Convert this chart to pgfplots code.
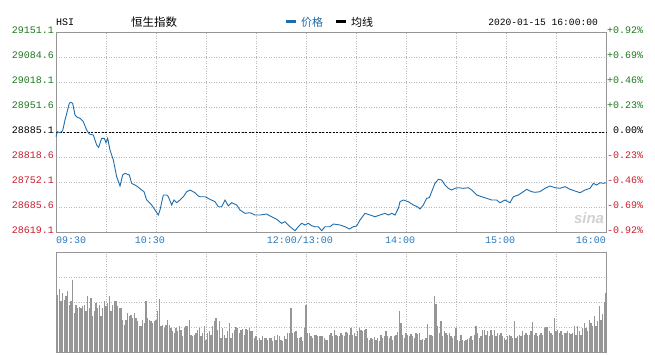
\documentclass[border=0pt]{standalone}
\usepackage{pgfplots}
\pgfplotsset{compat=1.18}
\usepackage{pgfplotstable}
\usepackage{fontspec}
\setmainfont{Liberation Mono}
\newfontfamily\cjk{Noto Sans CJK SC}
\newfontfamily\sinafont{Liberation Sans}
\definecolor{lineblue}{RGB}{30,108,170}
\definecolor{tickblue}{RGB}{40,120,190}
\definecolor{upgreen}{RGB}{30,120,30}
\definecolor{downred}{RGB}{200,30,45}
\definecolor{framegray}{RGB}{150,150,150}
\definecolor{gridgray}{RGB}{185,185,185}
\definecolor{volgray}{RGB}{150,150,150}
\tikzset{
  rlab/.style={anchor=west, inner xsep=1pt, yshift=2pt, font=\fontsize{10}{10}\selectfont},
  tlab/.style={text=tickblue, yshift=-8pt, font=\fontsize{10}{10}\selectfont},
}

\pgfplotstableread{
v
62
57
63
51
59
52
56
61
47
51
72
39
47
44
45
44
46
47
41
56
44
54
36
41
49
44
47
36
44
51
46
49
56
41
47
51
51
46
44
44
32
27
32
39
36
37
34
39
34
31
26
26
32
29
51
34
32
31
29
31
32
41
53
26
27
24
27
32
27
24
21
19
24
21
26
22
16
24
26
26
32
17
16
17
19
22
24
16
19
26
12
19
21
17
26
31
34
22
31
14
24
17
14
21
29
14
19
22
25
24
19
22
23
17
23
22
24
21
21
14
16
12
14
12
16
14
14
12
14
14
11
16
12
17
16
12
11
16
13
19
19
44
19
20
21
14
14
15
11
24
47
19
19
16
14
17
17
16
16
16
16
14
12
12
17
19
16
22
17
16
16
19
17
16
20
19
17
24
17
19
16
21
24
22
21
22
23
14
12
14
13
15
12
14
11
17
14
16
21
16
14
16
12
16
17
20
41
29
17
14
19
17
16
18
16
14
19
18
19
12
13
12
14
28
17
17
16
56
48
26
19
31
16
21
19
17
19
16
14
16
24
12
11
17
12
11
12
13
14
16
12
17
26
19
14
16
22
22
17
21
16
22
17
22
16
19
17
19
16
14
12
16
17
16
14
31
14
16
17
16
21
17
19
17
17
21
30
17
19
16
17
19
17
24
25
25
21
19
17
34
21
22
19
21
17
19
19
21
19
18
19
26
17
26
21
17
24
29
24
21
32
29
26
36
26
31
46
32
38
50
59
}\voltable

\begin{document}
\begin{tikzpicture}
\useasboundingbox (0pt,0pt) rectangle (655pt,354pt);

% ---------- price panel ----------
\begin{axis}[
  at={(56pt,122pt)}, anchor=south west,
  scale only axis, width=550pt, height=200pt,
  xmin=0, xmax=330, ymin=28619.1, ymax=29151.1,
  scaled x ticks=false, scaled y ticks=false,
  xtick={0,30,60,90,120,150,180,210,240,270,300,330},
  xticklabels={},
  ytick={28619.1,28685.6,28752.1,28818.6,28885.1,28951.6,29018.1,29084.6,29151.1},
  yticklabels={
    \textcolor{downred}{28619.1},\textcolor{downred}{28685.6},\textcolor{downred}{28752.1},\textcolor{downred}{28818.6},
    \textcolor{black}{28885.1},
    \textcolor{upgreen}{28951.6},\textcolor{upgreen}{29018.1},\textcolor{upgreen}{29084.6},\textcolor{upgreen}{29151.1}},
  yticklabel style={font=\fontsize{10}{10}\selectfont, anchor=east, inner xsep=2pt, yshift=2pt},
  major tick length=0pt,
  grid=major,
  major grid style={draw=gridgray, line width=0.8pt, dash pattern=on 1pt off 1.5pt},
  axis line style={draw=framegray, line width=0.9pt},
  clip=false,
]
\addplot[black, line width=0.9pt, dash pattern=on 2pt off 1.5pt] coordinates {(0,28885.1) (330,28885.1)};
\addplot[lineblue, line width=0.9pt] coordinates {
(0,28872.6)(0.8,28885.9)(2.4,28883.2)(4.0,28888.6)(5.4,28917.0)(8.0,28961.4)(8.8,28964.1)(10.0,28961.4)
(11.4,28930.3)(12.8,28924.2)(14.4,28921.5)(16.4,28912.5)(18.4,28890.4)(20.0,28879.8)(22.4,28877.1)
(24.4,28850.5)(25.6,28844.4)(27.4,28868.3)(29.0,28868.3)(30.0,28856.6)(31.0,28868.3)(32.4,28837.2)
(34.4,28810.6)(36.4,28766.2)(38.4,28741.5)(40.0,28770.7)(41.4,28775.2)(44.0,28770.7)(45.4,28748.6)
(48.4,28741.5)(51.4,28730.8)(52.8,28726.3)(54.4,28704.2)(57.4,28690.9)(59.4,28677.6)(61.4,28664.3)
(62.4,28677.6)(64.4,28717.5)(66.4,28717.5)(67.4,28713.0)(69.4,28690.9)(70.8,28704.2)(72.4,28697.0)
(74.4,28704.2)(76.4,28713.0)(78.4,28726.3)(80.4,28730.8)(83.4,28723.6)(85.4,28714.9)(86.4,28713.0)
(89.4,28713.0)(92.4,28706.1)(95.4,28699.7)(97.4,28686.4)(99.4,28686.4)(101.4,28704.2)(103.4,28688.3)
(105.4,28697.0)(108.4,28690.9)(110.4,28677.6)(113.4,28668.8)(116.4,28670.4)(119.4,28664.3)(122.4,28664.3)
(126.4,28667.0)(128.4,28661.7)(132.4,28652.9)(135.4,28642.2)(137.4,28646.5)(140.4,28633.2)(143.4,28622.6)
(145.4,28633.2)(147.4,28642.2)(149.4,28637.7)(151.4,28642.2)(153.4,28635.9)(155.4,28633.2)(157.4,28633.2)
(159.4,28622.6)(161.4,28633.2)(164.4,28633.2)(166.4,28640.4)(170.4,28637.7)(173.4,28633.2)(176.0,28627.1)
(178.4,28633.2)(180.4,28635.1)(182.4,28651.0)(185.4,28668.8)(188.4,28664.3)(191.4,28659.8)(194.4,28664.3)
(197.4,28668.8)(199.4,28664.3)(201.4,28668.8)(203.4,28664.3)(205.4,28682.1)(206.4,28699.7)(208.4,28704.2)
(211.4,28699.7)(214.4,28690.9)(216.8,28686.4)(218.4,28680.3)(220.4,28690.9)(222.4,28708.7)(224.0,28710.3)
(225.4,28726.3)(227.4,28748.6)(229.4,28759.3)(231.4,28757.4)(233.4,28744.1)(235.4,28735.3)(237.4,28730.8)
(239.4,28735.3)(241.4,28736.9)(244.4,28735.3)(247.4,28736.9)(249.4,28730.8)(252.4,28717.5)(255.4,28713.0)
(258.4,28708.7)(261.4,28704.2)(264.4,28704.2)(266.4,28697.0)(269.4,28704.2)(272.4,28697.0)(274.4,28713.0)
(277.4,28717.5)(280.4,28726.3)(282.4,28732.7)(285.4,28726.3)(287.4,28724.7)(290.4,28726.3)(293.4,28735.3)
(296.4,28741.5)(299.4,28736.9)(302.4,28735.3)(305.4,28739.6)(308.4,28732.7)(311.4,28728.2)(314.4,28723.6)
(317.4,28730.8)(320.4,28735.3)(322.4,28748.6)(324.4,28744.1)(326.4,28750.2)(328.4,28748.6)(330,28750.2)
};
% right-hand percentage labels
\node[rlab, text=upgreen] at (axis cs:330,29151.1) {+0.92\%};
\node[rlab, text=upgreen] at (axis cs:330,29084.6) {+0.69\%};
\node[rlab, text=upgreen] at (axis cs:330,29018.1) {+0.46\%};
\node[rlab, text=upgreen] at (axis cs:330,28951.6) {+0.23\%};
\node[rlab, text=black] at (axis cs:330,28885.1) {\ 0.00\%};
\node[rlab, text=downred] at (axis cs:330,28818.6) {-0.23\%};
\node[rlab, text=downred] at (axis cs:330,28752.1) {-0.46\%};
\node[rlab, text=downred] at (axis cs:330,28685.6) {-0.69\%};
\node[rlab, text=downred] at (axis cs:330,28619.1) {-0.92\%};
% time labels
\node[tlab, anchor=west, inner xsep=0pt] at (axis cs:0,28619.1) {09:30};
\node[tlab] at (axis cs:56.4,28619.1) {10:30};
\node[tlab] at (axis cs:146.4,28619.1) {12:00/13:00};
\node[tlab] at (axis cs:206.4,28619.1) {14:00};
\node[tlab] at (axis cs:266.4,28619.1) {15:00};
\node[tlab, anchor=east, inner xsep=0pt] at (axis cs:330,28619.1) {16:00};
\end{axis}

% ---------- volume panel ----------
\begin{axis}[
  at={(56pt,2pt)}, anchor=south west,
  scale only axis, width=550pt, height=100pt,
  xmin=0, xmax=330, ymin=0, ymax=100,
  scaled x ticks=false, scaled y ticks=false,
  xtick={0,30,60,90,120,150,180,210,240,270,300,330},
  ytick={25,50,75},
  xticklabels={}, yticklabels={},
  major tick length=0pt,
  grid=major,
  major grid style={draw=gridgray, line width=0.8pt, dash pattern=on 1pt off 1.5pt},
  axis line style={draw=framegray, line width=0.9pt},
]
\addplot[ycomb, draw=volgray, line width=1.05pt, mark=none] table[x expr=\coordindex, y=v] {\voltable};
\end{axis}

% ---------- header ----------
\node[anchor=west, inner sep=0pt, font=\fontsize{10}{10}\selectfont] at (56pt,332pt) {HSI};
\node[anchor=west, inner sep=0pt, font=\cjk\fontsize{11.5}{12}\selectfont] at (131pt,332pt) {恒生指数};
\fill[lineblue] (286pt,330.5pt) rectangle (296pt,333.5pt);
\node[anchor=west, inner sep=0pt, text=lineblue, font=\cjk\fontsize{11}{12}\selectfont] at (301pt,332pt) {价格};
\fill[black] (336pt,330.5pt) rectangle (346pt,333.5pt);
\node[anchor=west, inner sep=0pt, font=\cjk\fontsize{11}{12}\selectfont] at (351pt,332pt) {均线};
\node[anchor=east, inner sep=0pt, font=\fontsize{9.6}{10}\selectfont] at (598pt,332pt) {2020-01-15 16:00:00};
% watermark
\node[text=black!18, font=\sinafont\bfseries\itshape\fontsize{15}{15}\selectfont] at (589pt,136pt) {sina};
\end{tikzpicture}
\end{document}
